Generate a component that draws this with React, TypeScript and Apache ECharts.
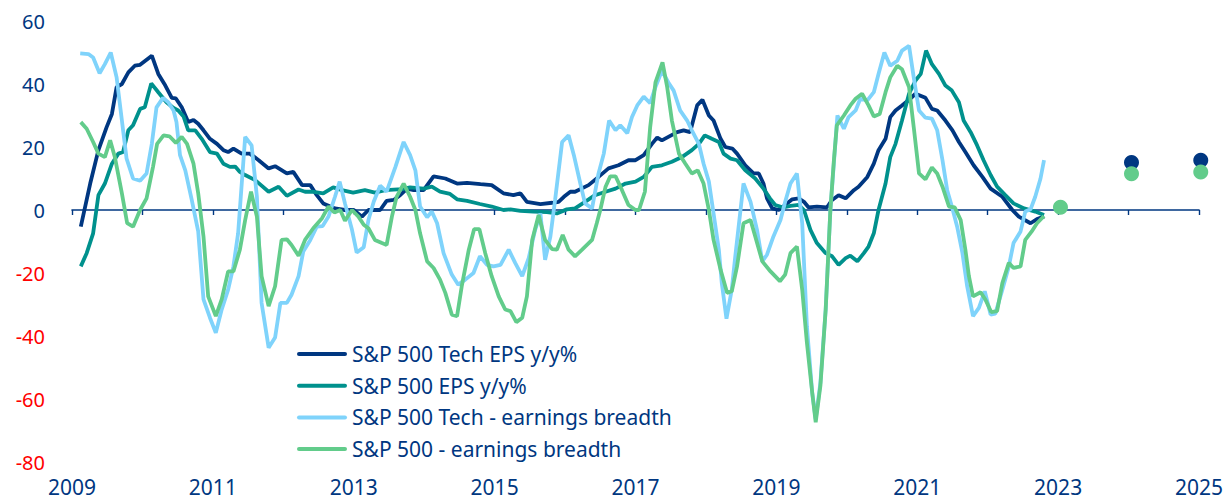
import React, { useEffect, useRef } from 'react';
import * as echarts from 'echarts';

// x = months since Jan 2009, y = %
const xTickLabels = ['2009', '2011', '2013', '2015', '2017', '2019', '2021', '2023', '2025'];
const seriesNames = [
  'S&P 500 Tech EPS y/y%',
  'S&P 500 EPS y/y%',
  'S&P 500 Tech - earnings breadth',
  'S&P 500 - earnings breadth',
];

const techEps = [[1.5,-5.3],[3.1,8.4],[4.5,19],[5.9,26.3],[6.8,30.5],[7.6,39],[8.5,40],[9.6,43.7],[10.7,45.8],[11.6,46.1],[13.6,49],[14.7,43.2],[15.9,39.5],[17,35.6],[17.7,35.4],[18.7,32.6],[19.8,27.9],[20.7,28.6],[21.5,27.4],[22.4,25.3],[23.5,22.6],[24.7,21],[25.8,19],[26.6,18.4],[27.5,19.5],[28.9,17.9],[30.3,17.9],[31.8,15.8],[33.5,13.2],[34.6,13.9],[36.6,11.6],[37.7,12.1],[39.2,7.9],[40.6,7.9],[41.7,4.7],[42.8,2.1],[44.8,0.5],[46.5,0],[48,0],[49.4,-2.1],[50.5,0],[52.5,0],[53.6,2.9],[54.8,3.2],[55.9,4.7],[57.1,6.8],[58.2,6.3],[59.9,6.3],[61.6,10.7],[63.6,10],[65.6,8.4],[67.3,8.6],[69.6,8.2],[71.5,7.9],[73.5,5.3],[75.2,4.7],[76.4,5.3],[77.5,2.6],[79.8,1.9],[81.8,2.3],[82.9,2.6],[83.8,4.2],[84.9,5.8],[85.7,5.8],[88,7.9],[89.7,10.5],[91.4,13.2],[93.1,14.2],[94.8,15.8],[96,15.8],[97.4,17.4],[98.8,21],[99.7,23],[100.5,22.1],[101.6,23.2],[103.1,24.7],[104.2,25.3],[105.3,24.7],[106.5,33.2],[107.4,35],[108.5,30],[109.3,28.4],[110.5,22.6],[111.3,20],[112.5,19.5],[113.3,17.9],[114.7,14.2],[116.1,11.6],[117,11.6],[117.8,8.4],[118.4,3.7],[119.3,0.5],[120.4,0],[121.5,1.6],[122.7,3.4],[123.8,3.7],[124.7,2.6],[125.5,0.8],[126.9,1.1],[128.6,0.8],[129.5,3.2],[130.6,4.7],[131.8,3.7],[133.2,6.3],[134,7.4],[135.5,10.5],[136.6,14.7],[137.4,19],[138.6,22.6],[139.4,29.5],[140.3,31.6],[141.4,33.2],[142.6,35],[143.7,36.9],[145.4,35.6],[146.5,32.1],[147.4,31.6],[148.8,28.4],[150,25.3],[151.1,21.6],[152.2,18.4],[153.6,14.2],[155.1,10.5],[156.5,6.8],[158.5,4.2],[160.2,0],[161.3,-2.1],[163.3,-4.2],[164.4,-2.9],[165.6,-2.1]];

const spxEps = [[1.5,-17.9],[2.5,-13.7],[3.6,-7.4],[4.5,4.7],[5.6,8.4],[6.8,14.7],[7.9,17.9],[8.7,18.4],[9.6,25.3],[10.4,26.9],[11.6,32.1],[12.4,32.6],[13.5,40.2],[14.7,37.4],[16.1,34.2],[17.3,32.4],[18.1,31.6],[19,29.7],[19.8,25.3],[21,25.3],[22.1,22.6],[23.5,18.4],[24.7,17.9],[25.8,14.7],[26.9,13.7],[27.8,13.8],[28.6,12.1],[29.5,11.1],[31.2,9.5],[33.5,5.8],[35.2,7.4],[36.6,4.5],[38.6,6.5],[39.7,5.8],[40.9,5.8],[42.8,5.3],[44.5,7.2],[46,6.3],[47.9,5.5],[49.9,6.3],[51.6,5.5],[53.4,6.3],[56.2,6.6],[57.6,7.2],[59.9,6.8],[61.3,7.4],[62.7,5.8],[64.4,5.1],[65.6,3.4],[67.3,2.9],[69.5,1.9],[71.5,1.1],[73.5,0],[74.7,0.2],[76.4,-0.3],[78.6,-0.5],[80.9,-0.7],[82.6,-1.1],[84.3,0.2],[85.7,0.5],[87.4,2.6],[89.1,4.7],[90.9,5.8],[92.6,6.8],[94.3,8.4],[96,9],[97.4,10.5],[98.8,13.7],[100.5,14.2],[102.2,15.3],[103.9,16.8],[105.6,19],[106.8,21],[107.8,23.7],[109,22.6],[110.2,21.6],[111,17.9],[112.2,16.3],[113.3,15.8],[114.7,12.6],[116.4,10],[117.8,6.8],[118.9,3.7],[119.8,1.6],[121.2,0.8],[122.4,1.3],[123.8,1.6],[124.7,0],[125.8,-6.3],[126.9,-10.5],[128.4,-13.7],[129.5,-14.7],[130.6,-17.4],[131.8,-15.3],[132.6,-14.5],[133.8,-16.3],[134.9,-13.7],[135.7,-11.6],[136.6,-7.4],[137.4,0],[138.6,8.4],[139.4,16.8],[140.3,21],[141.4,28.4],[142.6,36.9],[143.7,41.1],[144.6,43.2],[145.5,50.6],[146.5,46.3],[147.7,43.2],[148.8,39.5],[149.9,37.9],[151.1,34.2],[151.9,28.4],[153.1,24.7],[154.2,20.5],[155.3,15.8],[156.5,11.1],[157.6,7.4],[159,4.7],[160.4,2.1],[162.2,0.5],[164.1,-0.5],[165.6,-1.6]];

const techBreadth = [[1.4,49.7],[2.8,49.5],[3.6,48.4],[4.7,43.4],[5.6,46.3],[6.6,50],[7.6,42.1],[8.5,28.4],[9.3,16.3],[10.4,10],[11.6,9.3],[12.7,11.6],[13.6,21],[14.4,32.6],[15.5,35.6],[16.4,34.2],[17.3,31.6],[17.8,27.9],[18.4,17.4],[19.3,12.6],[20.4,3.2],[21.5,-6.8],[22.4,-28.4],[23.5,-34.2],[24.5,-39],[25.5,-31.6],[26.6,-25.3],[27.5,-17.9],[28.3,-7.4],[29.5,23.2],[30.6,20.5],[31.5,4.2],[32.3,-29.5],[33.5,-43.7],[34.6,-40.5],[35.5,-29.5],[36.6,-29.5],[37.4,-26.9],[38.6,-21],[39.4,-13.2],[40.6,-9.5],[41.7,-5.3],[42.7,-5.1],[43.7,-2.1],[44.8,4.2],[45.6,9],[46.5,2.1],[47.7,-6.3],[48.5,-13.5],[49.7,-11.8],[50.5,-3.2],[51.4,2.6],[52.5,7.7],[53.6,5.8],[55.1,13.7],[56.5,21.6],[57.6,17.4],[58.5,12.6],[59.3,1.1],[60.5,-2.3],[61.3,-0.5],[62.2,-4.2],[63.3,-13.7],[64.7,-20.5],[65.8,-23.7],[67,-22.1],[68.4,-20],[69.5,-14.7],[70.7,-17.4],[71.8,-17.9],[73,-17.4],[74.4,-12.6],[75.5,-16.8],[76.7,-21],[77.8,-15.3],[78.9,-6.3],[79.8,-1.1],[80.6,-15.8],[81.5,-8.4],[82.3,3.2],[83.5,21.6],[84.6,23.7],[85.5,17.4],[86.6,8.4],[87.4,2.1],[88.6,0.5],[89.7,11.6],[90.6,17.9],[91.5,28.4],[92.6,25.3],[93.4,26.9],[94.6,24.4],[95.4,29.5],[96.3,33.2],[97.4,36],[98.5,33.9],[99.4,39],[100.5,44.2],[101.6,40.5],[102.5,37.9],[103.6,31.6],[104.8,28.4],[105.6,25.3],[106.8,21],[107.6,14.7],[108.5,9],[109.3,-1.1],[110.2,-12.6],[110.7,-23.2],[111.5,-34.5],[112.4,-25.3],[113,-14.7],[114.4,8.4],[115.6,2.6],[116.7,-6.3],[117.6,-16.3],[118.4,-14.2],[119.5,-8.4],[120.7,-3.2],[121.5,2.6],[122.4,8.4],[123.5,11.6],[124.4,-4.2],[125.2,-36.9],[126.1,-57.9],[126.7,-66.4],[127.5,-54.8],[128.4,-31.6],[129.2,0],[130.4,30],[131.5,25.8],[132.3,29.5],[133.5,31.6],[134.3,35.3],[135.5,34.8],[136.6,37.4],[137.4,43.2],[138.4,50],[139.4,45.8],[140.6,47.4],[141.4,50.6],[142.6,52.1],[143.4,42.1],[144.3,31.6],[145.4,29.3],[146.5,29],[147.4,25.3],[148.3,15.8],[149.1,6.3],[149.9,1.1],[150.8,-5.3],[151.7,-13.7],[152.5,-24.2],[153.5,-33.7],[154.5,-31.1],[155.5,-25.8],[156.5,-33.2],[157.3,-32.9],[158.5,-25.3],[159.6,-17.9],[160.4,-10.5],[161.6,-6.8],[162.4,-0.5],[163.3,0.2],[164.1,4.2],[165,10],[165.6,15.8]];

const spxBreadth = [[1.5,27.9],[2.5,25.8],[3.6,21.6],[4.5,17.9],[5.6,16.8],[6.5,22.1],[7.3,16.8],[8.5,5.3],[9.4,-4.2],[10.4,-5.3],[11.6,0],[12.7,3.7],[13.8,13.7],[14.5,21],[15.6,23.7],[16.6,23.4],[17.7,21.3],[18.7,23.2],[19.6,21],[20.7,14.7],[21.5,5.3],[22.4,-8.4],[23.2,-27.4],[24.5,-33.7],[25.5,-28.4],[26.6,-19.5],[27.5,-19.5],[28.6,-12.6],[29.5,-3.2],[30.5,5.8],[31.5,-2.1],[32.3,-21],[33.5,-30.5],[34.6,-24.2],[35.7,-9.5],[36.6,-9.3],[37.4,-11.1],[38.6,-14.5],[39.7,-9.5],[41.1,-5.8],[42.6,-2.6],[43.7,1.1],[44.7,-0.8],[45.7,0],[46.5,-3.4],[47.7,0],[48.8,-2.1],[49.7,-4.7],[50.5,-5.8],[51.6,-9.5],[52.8,-10.5],[53.6,-11.1],[54.5,-2.1],[55.3,4.2],[56.5,8.4],[57.6,4.2],[58.5,0],[59.3,-7.4],[60.5,-16.3],[61.6,-18.4],[62.7,-22.1],[63.6,-26.3],[64.7,-33.2],[65.6,-33.7],[66.4,-24.2],[67.6,-12.6],[68.5,-6.1],[69.4,-6.1],[70.4,-13.7],[71.5,-21],[72.7,-27.4],[73.8,-31.6],[74.7,-32.1],[75.7,-35.6],[76.7,-34.2],[77.5,-27.4],[78.4,-9.5],[79.5,-1.6],[80.6,-9.5],[81.8,-12.4],[82.6,-12.6],[83.6,-7.9],[84.6,-12.6],[85.7,-14.7],[86.9,-12.6],[88.6,-9.5],[89.4,-4.2],[90,0],[90.9,7.4],[91.7,10.7],[92.6,10.7],[93.7,6.3],[94.8,1.6],[96,0],[96.6,0],[97.6,5.8],[98.5,26.3],[99.4,40.5],[100.6,46.9],[101.4,39],[102.2,28.4],[103.4,17.9],[104.5,14.7],[105.6,11.6],[106.6,12.6],[107.6,8.4],[108.5,0],[109.3,-9.5],[110.5,-19],[111.6,-26.3],[112.4,-25.8],[113.3,-17.9],[114.4,-4.2],[115.6,-3.2],[116.4,-8.4],[117.6,-16.3],[119,-19.5],[120.6,-22.6],[121.5,-20.5],[122.4,-13.7],[123.5,-11.6],[124.4,-25.3],[125.2,-42.1],[126.1,-57.9],[126.7,-67.4],[127.5,-55.8],[128.4,-31.6],[129.2,0],[129.8,15.8],[130.3,26.9],[131.5,30],[132.6,33.2],[133.5,35.3],[134.6,36.9],[135.7,33.2],[136.6,29.7],[137.6,30.5],[138.6,37.4],[139.4,42.1],[140.6,45.8],[141.4,44.7],[142.6,39],[143.4,26.3],[144.3,11.6],[145.4,9.7],[146.5,13.5],[147.4,11.6],[148.3,7.4],[149.4,1.1],[150.4,0.8],[151.4,-3.2],[152.2,-12.6],[152.8,-21],[153.5,-27.4],[154.8,-26.1],[155.6,-28.4],[156.6,-32.4],[157.6,-32.1],[158.5,-23.2],[159.6,-16.8],[160.4,-18.4],[161.6,-17.9],[162.4,-9.5],[163.5,-6.8],[164.4,-4.2],[165.6,-1.9]];

const techForecast = [[180.5, 15.1], [192.3, 15.8]];
const spxForecast = [[168.4, 0.9], [180.5, 11.5], [192.3, 12.1]];

const NAVY = '#003781';
const TEAL = '#00918d';
const LIGHT = '#7fd3fb';
const GREEN = '#62cc8b';
const RED = '#ff0000';
const FONT = 'Noto Sans';
const LEGEND_ICON = 'path://M2,0H48A2,2 0 0 1 48,4H2A2,2 0 0 1 2,0Z';

export default function App() {
  const ref = useRef<HTMLDivElement>(null);
  useEffect(() => {
    if (!ref.current) return;
    const chart = echarts.init(ref.current, undefined, { renderer: 'svg' });
    const lineSeries = (name: string, data: number[][], color: string) => ({
      name,
      type: 'line',
      data,
      xAxisIndex: 0,
      showSymbol: false,
      symbol: 'none',
      lineStyle: { color, width: 3.8 },
      itemStyle: { color },
      z: 3,
    });
    chart.setOption({
      animation: false,
      grid: { left: 72, right: 30, top: 21, bottom: 39, containLabel: false },
      legend: {
        orient: 'vertical',
        left: 297,
        top: 343.5,
        padding: 0,
        itemWidth: 50,
        itemHeight: 21,
        itemGap: 10.7,
        symbolKeepAspect: true,
        textStyle: { color: NAVY, fontSize: 21, lineHeight: 21, fontFamily: FONT },
        data: seriesNames.map((name) => ({ name, icon: LEGEND_ICON })),
      },
      xAxis: [
        {
          type: 'value',
          min: 0,
          max: 192,
          interval: 12,
          axisLine: { onZero: true, lineStyle: { color: NAVY, width: 1.6 } },
          axisTick: { show: true, length: 5, lineStyle: { color: NAVY, width: 1.4 } },
          axisLabel: { show: false },
          splitLine: { show: false },
        },
        {
          type: 'value',
          min: 0,
          max: 192,
          interval: 24,
          position: 'bottom',
          axisLine: { show: false, onZero: false },
          axisTick: { show: false },
          splitLine: { show: false },
          axisLabel: {
            margin: 14,
            color: NAVY,
            fontSize: 21,
            lineHeight: 21,
            fontFamily: FONT,
            formatter: (v: number) => xTickLabels[Math.round(v / 24)] ?? '',
          },
        },
      ],
      yAxis: {
        type: 'value',
        min: -80,
        max: 60,
        interval: 20,
        axisLine: { show: false },
        axisTick: { show: false },
        splitLine: { show: false },
        axisLabel: {
          margin: 27,
          fontSize: 20,
          fontFamily: FONT,
          formatter: (v: number) => (v < 0 ? `{neg|${v}}` : `{pos|${v}}`),
          rich: {
            neg: { color: RED, fontSize: 20, fontFamily: FONT },
            pos: { color: NAVY, fontSize: 20, fontFamily: FONT },
          },
        },
      },
      series: [
        lineSeries(seriesNames[0], techEps, NAVY),
        lineSeries(seriesNames[1], spxEps, TEAL),
        lineSeries(seriesNames[2], techBreadth, LIGHT),
        lineSeries(seriesNames[3], spxBreadth, GREEN),
        {
          name: 'Tech EPS forecast',
          type: 'scatter',
          data: techForecast,
          symbolSize: 15,
          clip: false,
          itemStyle: { color: NAVY, opacity: 1 },
          z: 4,
        },
        {
          name: 'EPS forecast',
          type: 'scatter',
          data: spxForecast,
          symbolSize: 15,
          clip: false,
          itemStyle: { color: GREEN, opacity: 1 },
          z: 5,
        },
      ],
    });
    return () => chart.dispose();
  }, []);
  return (
    <div
      ref={ref}
      style={{ position: 'absolute', left: 0, top: 0, width: 1229, height: 501, background: '#fff' }}
    />
  );
}
